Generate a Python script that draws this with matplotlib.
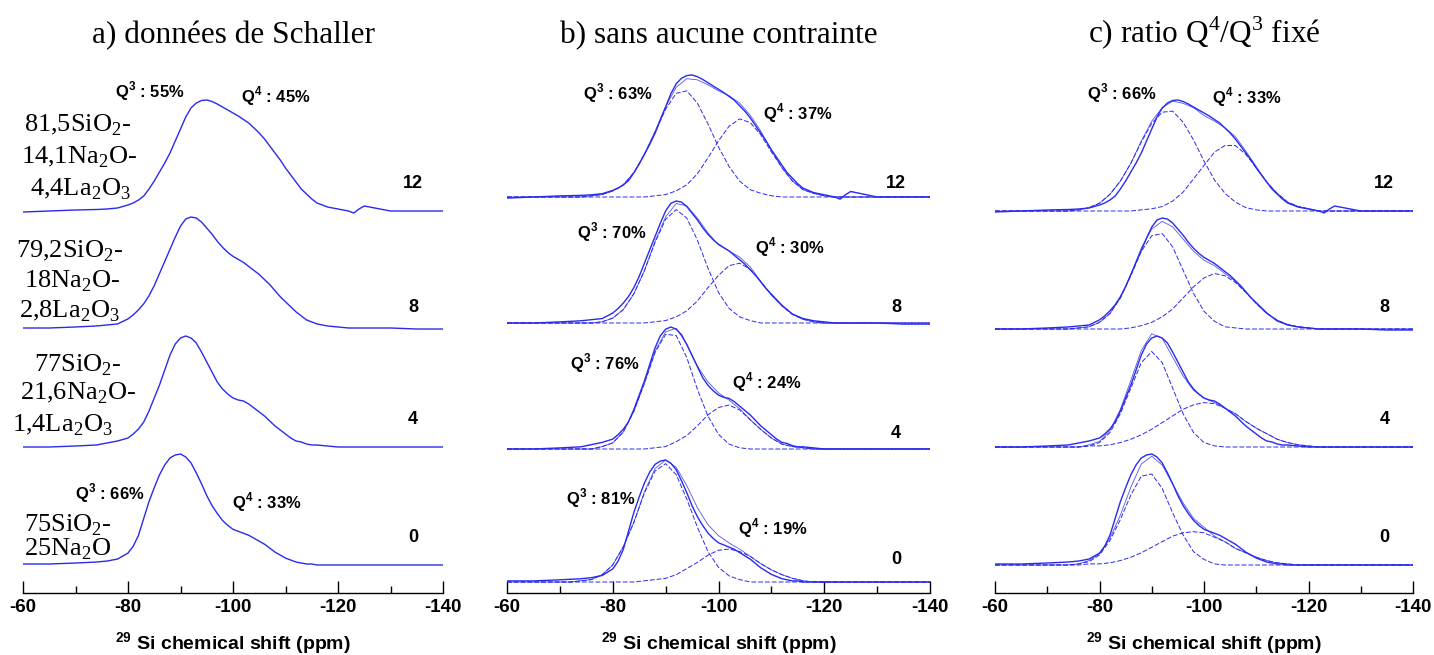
import numpy as np
import matplotlib.pyplot as plt
from matplotlib.ticker import MultipleLocator

plt.rcParams['font.family'] = ['Liberation Sans', 'DejaVu Sans']
plt.rcParams['axes.unicode_minus'] = False

# spectres RMN 29Si mesurés (intensité arbitraire), pour 12, 8, 4 et 0 % La2O3
ppm = [-60, -65, -70, -74, -76, -78, -80,
       -81, -82, -83, -84, -85, -86, -87, -88, -89, -90,
       -91, -92, -93, -94, -95, -96, -97, -98, -99, -100,
       -101, -102, -103, -104, -105, -106, -107, -108, -109, -110,
       -111, -112, -113, -114, -115, -116,
       -118, -120, -122, -123, -124, -125, -126, -128, -130, -135, -140]

spec_12 = [-1, 0, 1, 1.5, 2, 3, 6,
           8, 11, 15, 22, 30, 39, 48, 58, 70, 82,
           94, 103, 108, 110.5, 111, 109.5, 107, 104, 101, 98,
           95, 91.5, 88, 83, 78, 72, 65, 58, 51, 43,
           36, 29, 22, 17, 12, 8,
           4, 2, 0, -2, 2, 5, 4, 2, 0, 0, 0]
spec_8 = [0, 0, 1, 2, 3, 4, 9,
          13, 18, 24, 32, 42, 54, 66, 78, 90, 101,
          108, 110, 109, 105, 99, 93, 86, 80, 75, 71,
          68, 65, 61, 57, 53, 48, 43, 37, 31, 26,
          21, 16, 12, 8, 6, 4,
          2, 1, 0, 0, 0, 0, 0, 0, 0, -1, -1]
spec_4 = [0, 0, 1, 2, 4, 6, 9,
          13, 18, 25, 36, 49, 62, 77, 92, 103, 109,
          111, 109, 104, 95, 85, 75, 65, 58, 53, 49,
          47, 46, 43, 39, 35, 31, 26, 21, 17, 13,
          9, 6, 5, 3, 2, 2,
          1, 0, 0, 0, 0, 0, 0, 0, 0, 0, 0]
spec_0 = [1, 1, 2, 3, 4, 6, 12,
          19, 30, 47, 64, 78, 91, 101, 108, 111, 112,
          109, 103, 93, 82, 70, 60, 52, 45, 40, 36,
          34, 32, 30, 27, 24, 21, 17, 13, 10, 7,
          5, 3, 2, 1, 1, 0,
          0, 0, 0, 0, 0, 0, 0, 0, 0, 0, 0]

# composantes Q3 / Q4 des ajustements (% du maximum du spectre)
ppm_fit = [-60, -62, -64, -66, -68, -70, -72, -74, -76, -78, -80,
           -82, -84, -86, -88, -90, -92, -94, -96, -98, -100,
           -102, -104, -106, -108, -110, -112, -114, -116, -118, -120,
           -122, -124, -126, -128, -130, -132, -134, -136, -138, -140]

# b) sans aucune contrainte
b_q3_12 = [0]*8 + [1, 2, 5, 10, 20, 35, 53, 72, 85, 87, 77, 60, 41, 25, 13, 6, 3, 1] + [0]*15
b_q4_12 = [0]*14 + [1, 2, 5, 10, 19, 32, 46, 58, 64, 61, 51, 37, 24, 13, 6, 3, 1] + [0]*10
b_q3_8 = [0]*9 + [1, 4, 11, 24, 43, 66, 85, 93, 86, 68, 45, 25, 12, 5, 2] + [0]*17
b_q4_8 = [0]*14 + [1, 2, 5, 10, 18, 29, 39, 47, 49, 44, 34, 23, 14, 7, 3, 1] + [0]*11
b_q3_4 = [0]*9 + [2, 5, 14, 31, 54, 79, 94, 93, 75, 49, 27, 12, 4, 1] + [0]*18
b_q4_4 = [0]*14 + [1, 2, 6, 11, 19, 28, 34, 36, 32, 24, 16, 9, 4, 2, 1] + [0]*12
b_q3_0 = [0]*7 + [1, 2, 6, 14, 29, 49, 73, 91, 97, 88, 68, 45, 25, 12, 5, 2] + [0]*18
b_q4_0 = [0]*13 + [1, 2, 3, 6, 11, 16, 22, 26, 27, 25, 21, 15, 10, 6, 3, 1] + [0]*12

# c) ratio Q4/Q3 fixé
c_q3_12 = [0]*8 + [1, 3, 7, 15, 27, 43, 62, 79, 89, 90, 80, 64, 45, 28, 16, 8, 3, 1] + [0]*15
c_q4_12 = [0]*14 + [1, 2, 4, 9, 17, 29, 41, 53, 59, 59, 51, 39, 26, 16, 8, 4, 2] + [0]*10
c_q3_8 = [0]*8 + [1, 2, 6, 14, 28, 48, 70, 84, 86, 74, 53, 32, 16, 7, 2, 1] + [0]*17
c_q4_8 = [0]*13 + [1, 3, 6, 11, 18, 28, 38, 46, 50, 48, 42, 33, 23, 14, 8, 4, 2, 1] + [0]*10
c_q3_4 = [0]*9 + [1, 4, 13, 30, 53, 76, 86, 76, 53, 30, 13, 4, 1] + [0]*19
c_q4_4 = [0]*9 + [1, 1, 2, 4, 7, 11, 16, 22, 28, 34, 38, 40, 39, 35, 30, 23, 17, 12, 7, 4, 2, 1] + [0]*10
c_q3_0 = [0]*8 + [1, 3, 9, 22, 41, 63, 80, 82, 69, 47, 27, 12, 5, 1] + [0]*19
c_q4_0 = [0]*9 + [1, 1, 2, 4, 7, 11, 16, 21, 26, 29, 30, 29, 25, 21, 15, 11, 7, 4, 2, 1] + [0]*12

la2o3 = ['12', '8', '4', '0']
b_pct_q3 = [63, 70, 76, 81]
b_pct_q4 = [37, 30, 24, 19]
a_pct = {'12': (55, 45), '0': (66, 33)}
c_pct = {'12': (66, 33)}

compositions = [
    ['81,5SiO$_\\mathregular{2}$-', '14,1Na$_\\mathregular{2}$O-', '4,4La$_\\mathregular{2}$O$_\\mathregular{3}$'],
    ['79,2SiO$_\\mathregular{2}$-', '18Na$_\\mathregular{2}$O-', '2,8La$_\\mathregular{2}$O$_\\mathregular{3}$'],
    ['77SiO$_\\mathregular{2}$-', '21,6Na$_\\mathregular{2}$O-', '1,4La$_\\mathregular{2}$O$_\\mathregular{3}$'],
    ['75SiO$_\\mathregular{2}$-', '25Na$_\\mathregular{2}$O'],
]
titles = ['a) données de Schaller', 'b) sans aucune contrainte',
          'c) ratio Q$^\\mathregular{4}$/Q$^\\mathregular{3}$ fixé']

spectra = [spec_12, spec_8, spec_4, spec_0]
fits = {1: [(b_q3_12, b_q4_12), (b_q3_8, b_q4_8), (b_q3_4, b_q4_4), (b_q3_0, b_q4_0)],
        2: [(c_q3_12, c_q4_12), (c_q3_8, c_q4_8), (c_q3_4, c_q4_4), (c_q3_0, c_q4_0)]}

# mise en page (pixels au-dessus de l'axe)
W, H = 1434, 655
axis_y = 593
panels_x = [(23, 443), (507, 930), (995, 1413)]
bases = [[382, 265, 146, 28], [396, 270, 144, 11], [382, 264, 146, 28]]
scales = [111, 122, 111]
blue = '#2a2aee'

fig = plt.figure(figsize=(W / 100, H / 100), dpi=100)
top = 55
axes = []
for p, (x0, x1) in enumerate(panels_x):
    ax = fig.add_axes([x0 / W, (H - axis_y) / H, (x1 - x0) / W, (axis_y - top) / H])
    ax.set_xlim(-60, -140)
    ax.set_ylim(0, axis_y - top)
    for s in ['left', 'top', 'right']:
        ax.spines[s].set_visible(False)
    ax.spines['bottom'].set_linewidth(1.0)
    ax.set_yticks([])
    ax.xaxis.set_major_locator(MultipleLocator(20))
    ax.xaxis.set_minor_locator(MultipleLocator(10))
    ax.tick_params(axis='x', which='major', direction='in', length=9, width=1, labelsize=13.5, pad=4)
    ax.tick_params(axis='x', which='minor', direction='in', length=5, width=1)
    for lab in ax.get_xticklabels():
        lab.set_fontweight('bold')
    ax.set_xlabel('$^\\mathregular{29}$ Si chemical shift (ppm)', fontsize=14, fontweight='bold', labelpad=11)

    for i, spec in enumerate(spectra):
        spec = np.array(spec, dtype=float)
        base = bases[p][i]
        ax.plot(ppm, base + scales[p] * spec / spec.max(), color=blue, lw=1.0)
        if p in fits:
            q3, q4 = (np.array(q, dtype=float) for q in fits[p][i])
            ax.plot(ppm_fit, base + scales[p] * (q3 + q4) / 100, color=blue, lw=0.6, alpha=0.8)
            ax.plot(ppm_fit, base + scales[p] * q3 / 100, color=blue, lw=0.7, ls=(0, (5, 2)))
            ax.plot(ppm_fit, base + scales[p] * q4 / 100, color=blue, lw=0.7, ls=(0, (5, 2)))
    axes.append(ax)

    xc = (x0 + x1) / 2
    fig.text(xc / W, 1 - 43 / H, titles[p], ha='center', va='baseline',
             fontsize=22.5, family='Liberation Serif')

lab_kw = dict(fontsize=12, fontweight='bold', ha='center', va='center')
num_kw = dict(fontsize=13, fontweight='bold', ha='center', va='center')

# a) données de Schaller
ax = axes[0]
for lab, y in zip(la2o3, [409, 285, 173, 56]):
    ax.text(-134.3, y, lab, **num_kw)
ax.text(-84.2, 502, 'Q$^\\mathregular{3}$ : %d%%' % a_pct['12'][0], **lab_kw)
ax.text(-108.2, 497, 'Q$^\\mathregular{4}$ : %d%%' % a_pct['12'][1], **lab_kw)
ax.text(-76.6, 100, 'Q$^\\mathregular{3}$ : %d%%' % a_pct['0'][0], **lab_kw)
ax.text(-106.5, 91, 'Q$^\\mathregular{4}$ : %d%%' % a_pct['0'][1], **lab_kw)
comp_pos = [[(-70.4, 461), (-70.7, 430), (-71.0, 398)],
            [(-68.9, 336), (-69.4, 306), (-68.9, 276)],
            [(-70.4, 221), (-70.4, 193), (-67.5, 161)],
            [(-68.5, 61), (-68.5, 38)]]
for lines, pos in zip(compositions, comp_pos):
    for txt, (x, y) in zip(lines, pos):
        ax.text(x, y, txt, ha='center', va='baseline', fontsize=19, family='Liberation Serif')

# b) sans aucune contrainte
ax = axes[1]
for lab, y in zip(la2o3, [410, 286, 160, 33]):
    ax.text(-133.6, y, lab, **num_kw)
q3_pos = [(-80.9, 500), (-79.8, 361), (-78.5, 230), (-77.8, 95)]
q4_pos = [(-115.0, 480), (-113.5, 346), (-109.2, 211), (-110.3, 65)]
for v3, v4, (x3, y3), (x4, y4) in zip(b_pct_q3, b_pct_q4, q3_pos, q4_pos):
    ax.text(x3, y3, 'Q$^\\mathregular{3}$ : %d%%' % v3, **lab_kw)
    ax.text(x4, y4, 'Q$^\\mathregular{4}$ : %d%%' % v4, **lab_kw)

# c) ratio fixé
ax = axes[2]
for lab, y in zip(la2o3, [409, 285, 174, 56]):
    ax.text(-134.5, y, lab, **num_kw)
ax.text(-84.2, 500, 'Q$^\\mathregular{3}$ : %d%%' % c_pct['12'][0], **lab_kw)
ax.text(-108.2, 496, 'Q$^\\mathregular{4}$ : %d%%' % c_pct['12'][1], **lab_kw)

fig.savefig('out.png', dpi=100)
